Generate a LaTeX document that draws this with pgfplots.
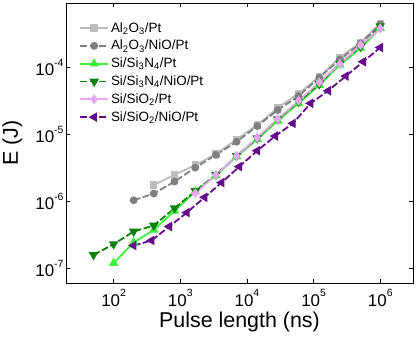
\documentclass[border=0pt]{standalone}
\usepackage{fontspec}
\setmainfont{Liberation Sans}
\usepackage{pgfplots}
\pgfplotsset{compat=1.18}
\definecolor{cAlPt}{HTML}{BDBDBD}
\definecolor{cAlNi}{HTML}{7F7F7F}
\definecolor{cSNPt}{HTML}{3CF03C}
\definecolor{cSNNi}{HTML}{0A820A}
\definecolor{cSOPt}{HTML}{EAA6F2}
\definecolor{cSONi}{HTML}{640A8C}
\begin{document}
\begin{tikzpicture}
\begin{loglogaxis}[
  scale only axis, width=347bp, height=280bp,
  xmin=19.3, xmax=3.1e6, ymin=6.0e-8, ymax=9.3e-4,
  log basis x=10, log basis y=10,
  tick align=inside, xtick pos=both, ytick pos=both,
  major tick length=4.5pt, minor tick length=2.5pt,
  axis line style={line width=1pt}, every tick/.style={black, line width=0.6pt},
  xtick={100,1000,10000,100000,1000000},
  ytick={1e-7,1e-6,1e-5,1e-4},
  xticklabel={10\raisebox{0.55em}{\fontsize{10.5}{10}\selectfont\pgfmathprintnumber[assume math mode=true]{\tick}}},
  yticklabel={10\raisebox{0.55em}{\fontsize{10.5}{10}\selectfont\pgfmathprintnumber[assume math mode=true]{\tick}}},
  tick label style={font=\fontsize{17}{19}\selectfont},
  xticklabel style={yshift=-3pt},
  yticklabel style={xshift=1pt},
  xlabel={Pulse length (ns)}, ylabel={E (J)},
  label style={font=\fontsize{21.5}{24}\selectfont},
  xlabel style={at={(axis description cs:0.5,-0.139)}, anchor=center},
  ylabel style={at={(axis description cs:-0.155,0.5)}, anchor=center},
  legend style={draw=none, fill=none, at={(0.035,0.942)}, anchor=north west,
    font=\fontsize{13.5}{15}\selectfont, row sep=2.6pt, inner sep=1pt},
  legend cell align=left,
  legend image code/.code={\draw[mark repeat=2,mark phase=2,#1] plot coordinates {(0pt,0pt)(14pt,0pt)(28pt,0pt)};},
  every axis plot/.append style={line width=1.8pt},
  clip=false,
]
\addplot[cAlPt, mark=square*, mark size=2.8pt, mark options={solid}] coordinates {
(400,1.76e-6) (820,2.49e-6) (1680,3.5e-6) (3430,5.1e-6) (7000,8.5e-6) (14300,1.39e-5)
(29000,2.52e-5) (59600,4.13e-5) (121700,7.3e-5) (248000,1.43e-4) (507000,2.39e-4) (1000000,4.6e-4)};
\addlegendentry{Al\textsubscript{2}O\textsubscript{3}/Pt}
\addplot[cAlNi, mark=*, mark size=3pt, dash pattern=on 7pt off 2.5pt, mark options={solid}] coordinates {
(200,1.04e-6) (400,1.31e-6) (820,1.98e-6) (1680,3.2e-6) (3430,4.96e-6) (7000,7.8e-6) (14300,1.34e-5)
(29000,2.33e-5) (59600,3.77e-5) (121700,7.1e-5) (248000,1.33e-4) (507000,2.31e-4) (1000000,4.45e-4)};
\addlegendentry{Al\textsubscript{2}O\textsubscript{3}/NiO/Pt}
\addplot[cSNPt, mark=triangle*, mark size=3.8pt, mark options={solid}] coordinates {
(100,1.19e-7) (200,2.42e-7) (400,3.74e-7) (820,7.2e-7) (1680,1.4e-6) (3430,2.43e-6) (7000,4.68e-6)
(14300,8.5e-6) (29000,1.61e-5) (59600,2.93e-5) (121700,5.5e-5) (248000,1.1e-4) (507000,1.95e-4) (1000000,3.9e-4)};
\addlegendentry{Si/Si\textsubscript{3}N\textsubscript{4}/Pt}
\addplot[cSNNi, mark=triangle*, mark size=3.8pt, dash pattern=on 7pt off 2.5pt, mark options={solid,rotate=180}] coordinates {
(50,1.58e-7) (100,2.29e-7) (200,3.54e-7) (400,4.35e-7) (820,7.9e-7) (1680,1.43e-6) (3430,2.5e-6) (7000,4.8e-6)
(14300,8.8e-6) (29000,1.7e-5) (59600,3.1e-5) (121700,5.7e-5) (248000,1.16e-4) (507000,2.06e-4) (1000000,4.2e-4)};
\addlegendentry{Si/Si\textsubscript{3}N\textsubscript{4}/NiO/Pt}
\addplot[cSOPt, mark=diamond*, mark size=3.6pt, mark options={solid}] coordinates {
(1680,1.32e-6) (3430,2.49e-6) (7000,4.79e-6) (14300,9.0e-6) (29000,1.71e-5) (59600,3.21e-5)
(121700,6.04e-5) (248000,1.14e-4) (507000,2.18e-4) (1000000,3.87e-4)};
\addlegendentry{Si/SiO\textsubscript{2}/Pt}
\addplot[cSONi, mark=triangle*, mark size=3.8pt, dash pattern=on 7pt off 2.5pt, mark options={solid,rotate=90}] coordinates {
(200,2.18e-7) (372,2.6e-7) (684,4.2e-7) (1259,6.8e-7) (2317,1.15e-6) (4169,1.91e-6) (7674,3.31e-6)
(14289,5.74e-6) (26600,9.5e-6) (48978,1.47e-5) (90157,2.93e-5) (166000,4.53e-5) (305000,7.5e-5) (556000,1.23e-4) (1000000,2.01e-4)};
\addlegendentry{Si/SiO\textsubscript{2}/NiO/Pt}
\end{loglogaxis}
\pgfresetboundingbox
\useasboundingbox ([shift={(-66bp,-54bp)}]current axis.south west) rectangle ([shift={(3bp,3bp)}]current axis.north east);
\end{tikzpicture}
\end{document}
